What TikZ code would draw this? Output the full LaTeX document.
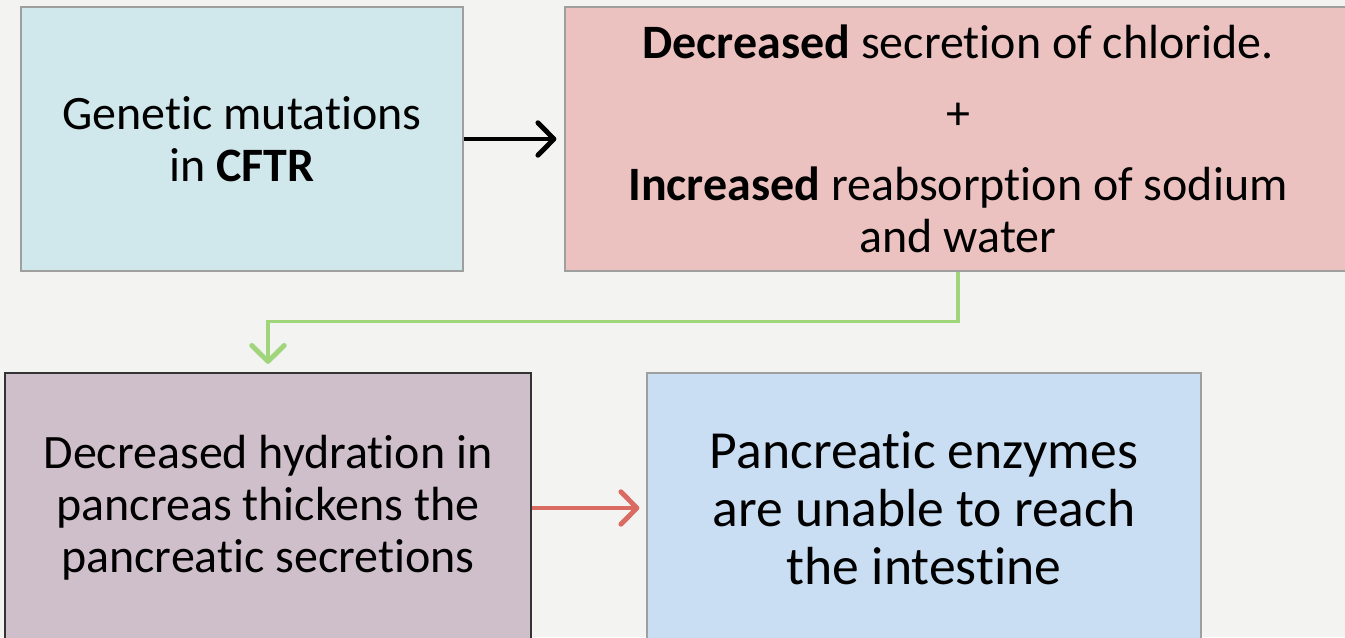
\documentclass[tikz,border=0pt]{standalone}
\usepackage{fontspec}
\setmainfont{Carlito}[Ligatures=NoCommon]
\usetikzlibrary{arrows.meta}

\definecolor{bgcol}{HTML}{F3F3F1}
\definecolor{genefill}{HTML}{D0E8EB}
\definecolor{defectfill}{HTML}{EBC2C0}
\definecolor{hydrfill}{HTML}{CFBFCA}
\definecolor{enzfill}{HTML}{C9DEF2}
\definecolor{greenline}{HTML}{A0D57C}
\definecolor{redline}{HTML}{D96B63}

\begin{document}
\begin{tikzpicture}[x=0.02cm, y=-0.02cm,
    box/.style={draw=gray!75, line width=0.8pt, inner sep=0pt, align=center, font=\fontsize{27.3}{29.5}\selectfont},
    flow/.style={-{Straight Barb[length=3.2mm, width=6.5mm, line width=2.8pt, round]}, line width=1.8pt}]
    \useasboundingbox (0,0) rectangle (1345,637);
    \clip (0,0) rectangle (1345,637);
    \fill[bgcol] (0,0) rectangle (1345,637);

    \node[box, fill=genefill, minimum width=8.84cm, minimum height=5.28cm] (gene) at (242,139) {Genetic mutations\\in \textbf{CFTR}};
    \node[box, fill=defectfill, minimum width=15.72cm, minimum height=5.28cm] (defect) at (958,139) {\textbf{Decreased} secretion of chloride.\\[11pt] +\\[11pt] \textbf{Increased} reabsorption of sodium\\and water};
    \node[box, draw=black!80, line width=1.3pt, fill=hydrfill, minimum width=10.52cm, minimum height=5.4cm] (hydr) at (268,508) {Decreased hydration in\\pancreas thickens the\\pancreatic secretions};
    \node[box, fill=enzfill, minimum width=11.08cm, minimum height=5.4cm, font=\fontsize{30.5}{33}\selectfont] (enz) at (924,508) {Pancreatic enzymes\\are unable to reach\\the intestine};

    \draw[flow, shorten >=0.16cm] (gene.east) -- (defect.west);
    \draw[flow, greenline, shorten >=0.16cm] (defect.south) -- ++(0,50) -| (hydr.north);
    \draw[flow, redline, shorten >=0.14cm] (hydr.east) -- (enz.west);
\end{tikzpicture}
\end{document}
